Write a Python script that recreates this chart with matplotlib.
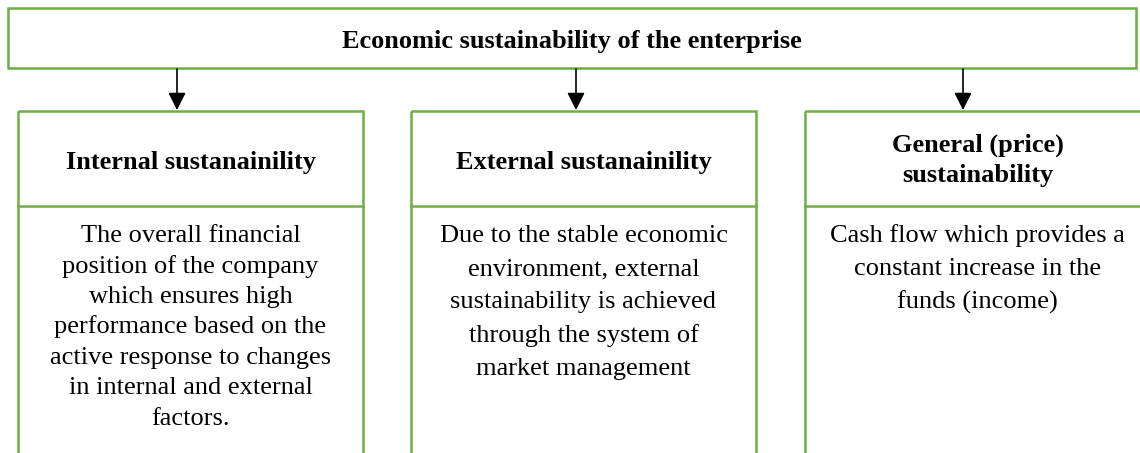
import matplotlib
matplotlib.use("Agg")
import matplotlib.pyplot as plt
from matplotlib.patches import Rectangle, FancyArrowPatch

W, H = 1140, 453
DPI = 100

title = "Economic sustainability of the enterprise"
headers = [
    ["Internal sustanainility"],
    ["External sustanainility"],
    ["General (price)", "sustainability"],
]
bodies = [
    ["The overall financial", "position of the company", "which ensures high",
     "performance based on the", "active response to changes",
     "in internal and external", "factors."],
    ["Due to the stable economic", "environment, external",
     "sustainability is achieved", "through the system of",
     "market management"],
    ["Cash flow which provides a", "constant increase in the",
     "funds (income)"],
]

# layout (pixels)
box_left = [18, 411, 805]
box_width = 345
box_top = 111
header_bottom = 206
arrow_x = [177, 576, 963]
body_spacing = [30.5, 33.2, 33.2]

GREEN = "#70AD47"
FONT = "Liberation Serif"
FS = 19

fig = plt.figure(figsize=(W / DPI, H / DPI), dpi=DPI)
ax = fig.add_axes([0, 0, 1, 1])
ax.set_xlim(0, W)
ax.set_ylim(H, 0)
ax.axis("off")

# top box
ax.add_patch(Rectangle((8, 8), 1128, 60, fill=False, edgecolor=GREEN, lw=1.8))
ax.text(572, 48, title, ha="center", va="baseline", fontsize=FS,
        fontweight="bold", family=FONT, color="black")

for i in range(3):
    x0 = box_left[i]
    cx = x0 + box_width / 2
    # outer box (open at bottom, runs off the page)
    ax.add_patch(Rectangle((x0, box_top), box_width, 400, fill=False,
                           edgecolor=GREEN, lw=1.8))
    ax.plot([x0, x0 + box_width], [header_bottom, header_bottom],
            color=GREEN, lw=1.8)
    # arrow
    ax.add_patch(FancyArrowPatch((arrow_x[i], 69), (arrow_x[i], box_top - 1),
                                 arrowstyle="-|>,head_length=0.75,head_width=0.38",
                                 mutation_scale=14, color="black", lw=1.2,
                                 shrinkA=0, shrinkB=0))
    # header
    hl = headers[i]
    if len(hl) == 1:
        ys = [169]
    else:
        ys = [152, 182]
    for y, line in zip(ys, hl):
        ax.text(cx, y, line, ha="center", va="baseline", fontsize=FS,
                fontweight="bold", family=FONT, color="black")
    # body
    for j, line in enumerate(bodies[i]):
        ax.text(cx, 242 + j * body_spacing[i], line, ha="center",
                va="baseline", fontsize=FS, family=FONT, color="black")

fig.savefig("out.png", dpi=DPI)
